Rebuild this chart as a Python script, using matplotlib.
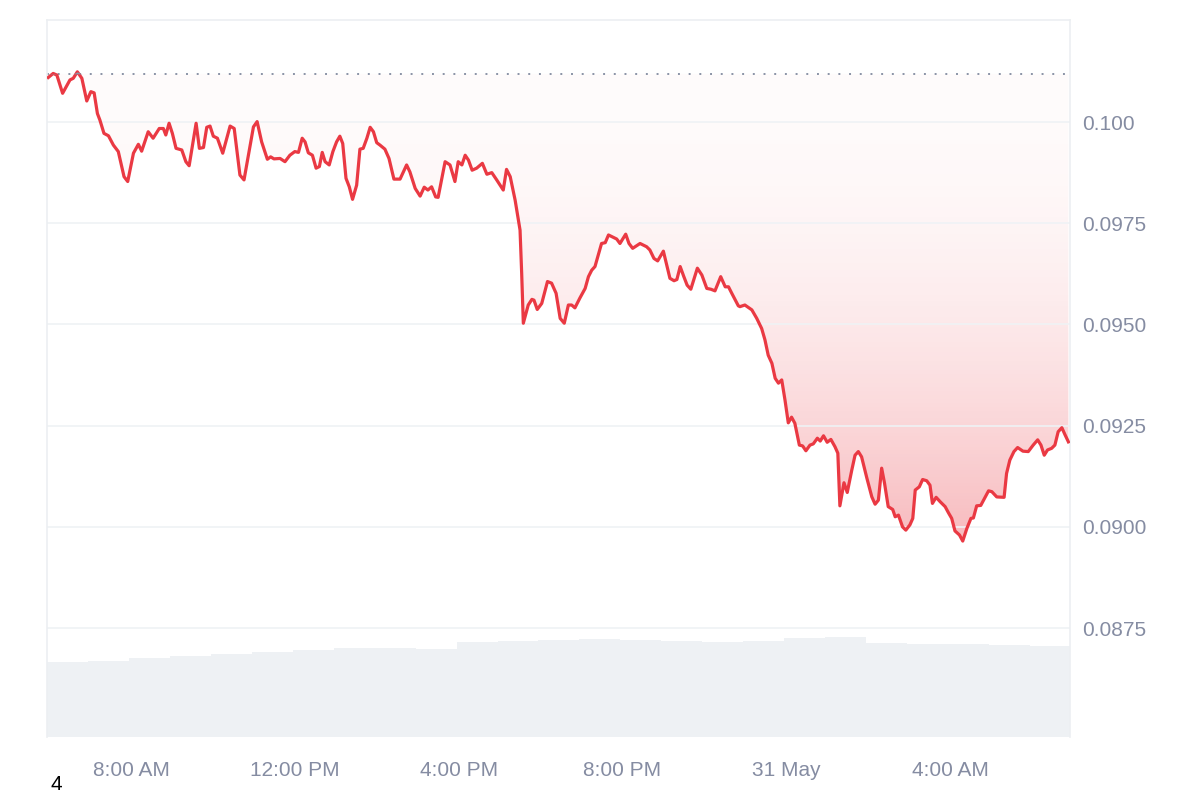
import numpy as np
import matplotlib.pyplot as plt

# price trace: hours counted from 00:00 on 30 May
hours = [5.98, 6.10, 6.19, 6.33, 6.51, 6.59, 6.69, 6.80, 6.92, 7.02, 7.10, 7.18, 7.24, 7.34, 7.45,
         7.57, 7.69, 7.83, 7.92, 8.06, 8.18, 8.26, 8.42, 8.54, 8.69, 8.79, 8.85, 8.93, 9.01, 9.10,
         9.24, 9.34, 9.42, 9.59, 9.67, 9.77, 9.85, 9.93, 10.01, 10.11, 10.24, 10.42, 10.52, 10.66,
         10.76, 10.99, 11.08, 11.19, 11.33, 11.41, 11.49, 11.64, 11.76, 11.88, 12.00, 12.09, 12.18,
         12.25, 12.33, 12.43, 12.52, 12.60, 12.67, 12.74, 12.84, 12.93, 13.02, 13.10, 13.17, 13.25,
         13.33, 13.41, 13.51, 13.59, 13.67, 13.76, 13.84, 13.92, 14.00, 14.08, 14.20, 14.30, 14.42,
         14.57, 14.73, 14.81, 14.94, 15.06, 15.16, 15.25, 15.34, 15.44, 15.50, 15.67, 15.79, 15.91,
         15.99, 16.08, 16.16, 16.24, 16.33, 16.44, 16.58, 16.69, 16.81, 16.93, 17.09, 17.17, 17.26,
         17.38, 17.50, 17.54, 17.58, 17.70, 17.79, 17.84, 17.92, 18.03, 18.17, 18.27, 18.38, 18.48,
         18.58, 18.68, 18.76, 18.84, 18.96, 19.09, 19.17, 19.25, 19.33, 19.49, 19.58, 19.66, 19.78,
         19.86, 19.94, 20.08, 20.16, 20.25, 20.43, 20.59, 20.67, 20.77, 20.86, 21.00, 21.08, 21.16,
         21.26, 21.33, 21.41, 21.50, 21.58, 21.67, 21.83, 21.94, 22.06, 22.16, 22.26, 22.40, 22.51,
         22.59, 22.67, 22.83, 22.87, 22.99, 23.16, 23.28, 23.40, 23.48, 23.56, 23.65, 23.73, 23.81,
         23.89, 23.97, 24.05, 24.13, 24.21, 24.32, 24.40, 24.48, 24.58, 24.66, 24.76, 24.83, 24.91,
         25.00, 25.09, 25.19, 25.26, 25.31, 25.41, 25.49, 25.60, 25.68, 25.76, 25.84, 25.97, 26.09,
         26.17, 26.25, 26.33, 26.40, 26.49, 26.60, 26.66, 26.74, 26.84, 26.92, 27.02, 27.09, 27.15,
         27.25, 27.33, 27.43, 27.51, 27.57, 27.66, 27.76, 27.88, 27.96, 28.04, 28.12, 28.23, 28.31,
         28.41, 28.51, 28.57, 28.65, 28.75, 28.83, 28.94, 29.02, 29.14, 29.32, 29.38, 29.46, 29.56,
         29.65, 29.78, 29.91, 30.03, 30.14, 30.22, 30.30, 30.38, 30.48, 30.56, 30.64, 30.73, 30.81,
         30.89]
price = [0.10110, 0.10120, 0.10116, 0.10071, 0.10104, 0.10108, 0.10124, 0.10108, 0.10052, 0.10075,
         0.10072, 0.10021, 0.10005, 0.09972, 0.09966, 0.09943, 0.09927, 0.09865, 0.09853, 0.09923,
         0.09945, 0.09928, 0.09976, 0.09960, 0.09984, 0.09984, 0.09968, 0.09997, 0.09972, 0.09935,
         0.09931, 0.09902, 0.09892, 0.09997, 0.09935, 0.09937, 0.09987, 0.09990, 0.09965, 0.09960,
         0.09923, 0.09990, 0.09984, 0.09869, 0.09857, 0.09988, 0.10001, 0.09951, 0.09908, 0.09914,
         0.09909, 0.09910, 0.09902, 0.09918, 0.09927, 0.09925, 0.09960, 0.09951, 0.09924, 0.09918,
         0.09886, 0.09890, 0.09925, 0.09902, 0.09894, 0.09927, 0.09951, 0.09965, 0.09947, 0.09861,
         0.09840, 0.09809, 0.09844, 0.09933, 0.09935, 0.09960, 0.09987, 0.09976, 0.09949, 0.09943,
         0.09933, 0.09910, 0.09859, 0.09859, 0.09894, 0.09877, 0.09836, 0.09817, 0.09839, 0.09832,
         0.09840, 0.09815, 0.09814, 0.09902, 0.09894, 0.09853, 0.09902, 0.09894, 0.09918, 0.09906,
         0.09881, 0.09886, 0.09898, 0.09871, 0.09875, 0.09857, 0.09832, 0.09883, 0.09865, 0.09807,
         0.09733, 0.09626, 0.09503, 0.09548, 0.09562, 0.09560, 0.09537, 0.09552, 0.09606, 0.09602,
         0.09577, 0.09515, 0.09503, 0.09548, 0.09548, 0.09541, 0.09565, 0.09589, 0.09618, 0.09634,
         0.09643, 0.09700, 0.09702, 0.09721, 0.09715, 0.09711, 0.09700, 0.09723, 0.09700, 0.09688,
         0.09700, 0.09692, 0.09684, 0.09663, 0.09657, 0.09681, 0.09647, 0.09614, 0.09608, 0.09611,
         0.09643, 0.09618, 0.09597, 0.09587, 0.09639, 0.09622, 0.09589, 0.09587, 0.09583, 0.09618,
         0.09593, 0.09593, 0.09577, 0.09546, 0.09544, 0.09548, 0.09536, 0.09515, 0.09490, 0.09462,
         0.09424, 0.09404, 0.09367, 0.09355, 0.09363, 0.09313, 0.09257, 0.09271, 0.09256, 0.09202,
         0.09200, 0.09188, 0.09202, 0.09205, 0.09219, 0.09212, 0.09225, 0.09209, 0.09216, 0.09198,
         0.09182, 0.09052, 0.09109, 0.09085, 0.09140, 0.09177, 0.09186, 0.09173, 0.09120, 0.09074,
         0.09056, 0.09066, 0.09145, 0.09108, 0.09050, 0.09043, 0.09025, 0.09029, 0.09000, 0.08992,
         0.09005, 0.09021, 0.09091, 0.09099, 0.09117, 0.09114, 0.09103, 0.09058, 0.09073, 0.09062,
         0.09050, 0.09035, 0.09021, 0.08990, 0.08980, 0.08965, 0.08996, 0.09021, 0.09022, 0.09052,
         0.09053, 0.09068, 0.09089, 0.09087, 0.09074, 0.09073, 0.09132, 0.09165, 0.09186, 0.09196,
         0.09187, 0.09186, 0.09202, 0.09215, 0.09202, 0.09177, 0.09190, 0.09194, 0.09202, 0.09235,
         0.09245, 0.09227, 0.09210]
open_price = 0.10119

# hourly volume (millions), starting at the left edge of the window
volume = [7.5, 7.6, 7.85, 8.1, 8.3, 8.5, 8.7, 8.85, 8.85, 8.8, 9.5, 9.6, 9.7, 9.8, 9.7,
          9.55, 9.5, 9.6, 9.9, 10.0, 9.4, 9.3, 9.25, 9.2, 9.05]

x_ticks = [8, 12, 16, 20, 24, 28]
x_labels = ['8:00 AM', '12:00 PM', '4:00 PM', '8:00 PM', '31 May', '4:00 AM']
y_ticks = [0.0875, 0.0900, 0.0925, 0.0950, 0.0975, 0.100]
y_labels = ['0.0875', '0.0900', '0.0925', '0.0950', '0.0975', '0.100']

t0, t1 = 5.95, 30.93
red = '#ea3943'
grey_txt = '#858ca2'
grid_c = '#eff2f5'

hours = np.array(hours)
price = np.array(price)

fig = plt.figure(figsize=(12, 8), dpi=100)
rect = [0.0392, 0.07875, 0.8525, 0.89625]
ax_vol = fig.add_axes(rect)
ax = fig.add_axes(rect)
ax.patch.set_visible(False)

# volume bars in the back
ax_vol.bar(t0 + np.arange(len(volume)), volume, width=1.0, align='edge',
           color='#eef1f4', edgecolor='none')
ax_vol.set_xlim(t0, t1)
ax_vol.set_ylim(0, max(volume) / 0.14)
ax_vol.axis('off')

# gradient fill between the line and the opening price (stronger near the bottom)
below = np.minimum(price, open_price)
poly = ax.fill_between(hours, below, open_price, facecolor='none', edgecolor='none')
f = np.linspace(0, 1, 256)          # 0 = lowest price, 1 = opening price
grad = np.zeros((256, 1, 4))
grad[:, 0, :3] = (0.918, 0.224, 0.263)
grad[:, 0, 3] = 0.02 + 0.33 * (1 - f) ** 2
img = ax.imshow(grad, extent=[t0, t1, price.min(), open_price], origin='lower',
                aspect='auto', interpolation='bilinear', zorder=1)
img.set_clip_path(poly.get_paths()[0], transform=ax.transData)

ax.plot(hours, price, color=red, lw=2.3, zorder=3, solid_joinstyle='round')
ax.fill_between(hours, open_price, np.maximum(price, open_price), color='#8a93a6',
                lw=0, zorder=4)
ax.axhline(open_price, color='#8a93a6', lw=1.4, ls=(0, (1, 4.5)), zorder=2)

ax.set_xlim(t0, t1)
ax.set_ylim(0.08481, 0.10252)
ax.set_xticks(x_ticks)
ax.set_xticklabels(x_labels)
ax.set_yticks(y_ticks)
ax.set_yticklabels(y_labels)
ax.yaxis.tick_right()
ax.tick_params(length=0, labelsize=15, labelcolor=grey_txt)
ax.tick_params(axis='x', pad=17)
ax.tick_params(axis='y', pad=9)
for lab in ax.get_xticklabels() + ax.get_yticklabels():
    lab.set_fontfamily('Liberation Sans')
ax.grid(axis='y', color=grid_c, lw=1.2, zorder=0)
for s in ['left', 'right', 'top']:
    ax.spines[s].set_color('#eceff2')
    ax.spines[s].set_linewidth(1.2)
ax.spines['bottom'].set_visible(False)

fig.text(0.042, 0.012, '4', fontsize=15, color='black', family='Liberation Sans')

fig.savefig('out.png', dpi=100)
